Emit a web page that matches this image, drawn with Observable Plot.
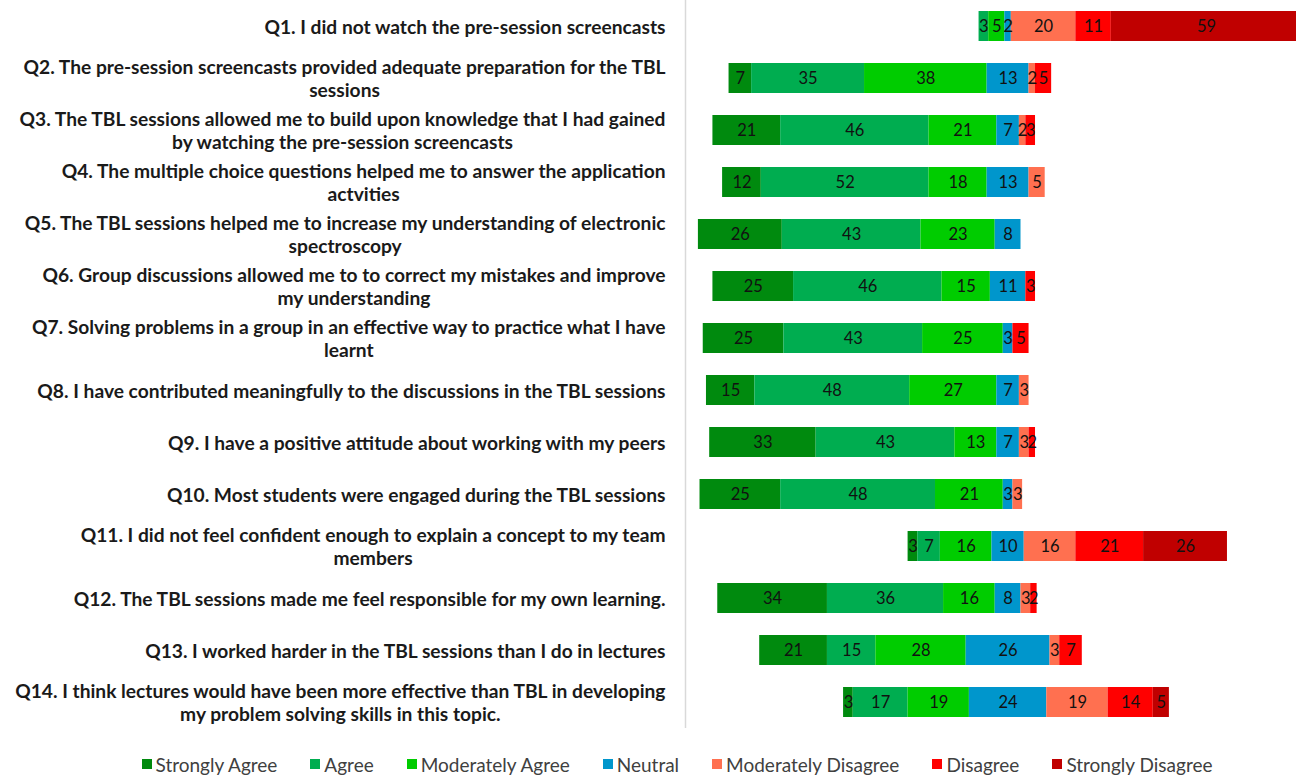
<!DOCTYPE html>
<html>
<head>
<meta charset="utf-8">
<script src="https://cdn.jsdelivr.net/npm/d3@7"></script>
<script src="https://cdn.jsdelivr.net/npm/@observablehq/plot@0.6"></script>
<style>
  html, body { margin: 0; padding: 0; background: #fff; overflow: hidden; }
  #chart svg { display: block; }
  #legend { display: flex; justify-content: center; align-items: center; font-family: Lato, "Open Sans", sans-serif; font-size: 19px; color: #404040; height: 30px; margin-top: 21px; padding-left: 58px; }
  #legend .item { display: flex; align-items: center; margin: 0 16.5px; }
  #legend .sw { width: 10px; height: 10px; margin-right: 4px; }
</style>
</head>
<body>
<div id="chart"></div>
<div id="legend"></div>
<script>
const questions = [
  "Q1. I did not watch the pre-session screencasts",
  "Q2. The pre-session screencasts provided adequate preparation for the TBL\nsessions",
  "Q3. The TBL sessions allowed me to build upon knowledge that I had gained\nby watching the pre-session screencasts",
  "Q4. The multiple choice questions helped me to answer the application\nactvities",
  "Q5. The TBL sessions helped me to increase my understanding of electronic\nspectroscopy",
  "Q6. Group discussions allowed me to to correct my mistakes and improve\nmy understanding",
  "Q7. Solving problems in a group in an effective way to practice what I have\nlearnt",
  "Q8. I have contributed meaningfully to the discussions in the TBL sessions",
  "Q9. I have a positive attitude about working with my peers",
  "Q10. Most students were engaged during the TBL sessions",
  "Q11. I did not feel confident enough to explain a concept to my team\nmembers",
  "Q12. The TBL sessions made me feel responsible for my own learning.",
  "Q13. I worked harder in the TBL sessions than I do in lectures",
  "Q14. I think lectures would have been more effective than TBL in developing\nmy problem solving skills in this topic."
];
const categories = ["Strongly Agree", "Agree", "Moderately Agree", "Neutral", "Moderately Disagree", "Disagree", "Strongly Disagree"];
const colors = ["#008a0e", "#00ad50", "#00cc00", "#0096cc", "#ff7050", "#ff0000", "#c00000"];

const stronglyAgree      = [0, 7, 21, 12, 26, 25, 25, 15, 33, 25, 3, 34, 21, 3];
const agree              = [3, 35, 46, 52, 43, 46, 43, 48, 43, 48, 7, 36, 15, 17];
const moderatelyAgree    = [5, 38, 21, 18, 23, 15, 25, 27, 13, 21, 16, 16, 28, 19];
const neutral            = [2, 13, 7, 13, 8, 11, 3, 7, 7, 3, 10, 8, 26, 24];
const moderatelyDisagree = [20, 2, 2, 5, 0, 0, 0, 3, 3, 3, 16, 3, 3, 19];
const disagree           = [11, 5, 3, 0, 0, 3, 5, 0, 2, 0, 21, 2, 7, 14];
const stronglyDisagree   = [59, 0, 0, 0, 0, 0, 0, 0, 0, 0, 26, 0, 0, 5];

const series = [stronglyAgree, agree, moderatelyAgree, neutral, moderatelyDisagree, disagree, stronglyDisagree];

// Build diverging table: centred on the middle of the Neutral segment
const rows = [];
questions.forEach((q, i) => {
  let start = -(stronglyAgree[i] + agree[i] + moderatelyAgree[i] + neutral[i] / 2);
  series.forEach((s, k) => {
    const v = s[i];
    rows.push({q, cat: categories[k], value: v, x1: start, x2: start + v});
    start += v;
  });
});
const nonZero = rows.filter(d => d.value > 0);

const chart = Plot.plot({
  width: 1296,
  height: 728,
  marginLeft: 685,
  marginRight: 0,
  marginTop: 0,
  marginBottom: 0,
  x: {domain: [-100, 89.4], axis: null},
  y: {domain: questions, paddingInner: 0.42, paddingOuter: 0.2, axis: null},
  color: {domain: categories, range: colors},
  marks: [
    Plot.ruleX([-100], {stroke: "#d9d9d9", strokeWidth: 1.5}),
    Plot.barX(nonZero, {x1: "x1", x2: "x2", y: "q", fill: "cat", clip: true}),
    Plot.text(nonZero, {x: d => (d.x1 + d.x2) / 2, y: "q", text: d => String(d.value), fill: "#111",
      fontSize: 16.5, fontFamily: "Lato, 'Open Sans', sans-serif", clip: true}),
    Plot.text(questions, {y: d => d, text: d => d, frameAnchor: "left", dx: -20, textAnchor: "end",
      lineAnchor: "middle", lineHeight: 1.2, fontSize: 19.2, fontWeight: "bold", fill: "#1a1a1a",
      fontFamily: "Lato, 'Open Sans', sans-serif"})
  ]
});
document.getElementById("chart").appendChild(chart);

// Centre wrapped lines of multi-line question labels relative to each other (right-aligned block)
chart.querySelectorAll("text").forEach(t => {
  const spans = t.querySelectorAll("tspan");
  if (spans.length > 1) {
    const widths = Array.from(spans, s => s.getComputedTextLength());
    const W = Math.max(...widths);
    spans.forEach(s => {
      const x0 = parseFloat(s.getAttribute("x")) || 0;
      s.setAttribute("x", x0 - W / 2);
      s.setAttribute("text-anchor", "middle");
    });
    t.setAttribute("text-anchor", "middle");
  }
});

const legend = document.getElementById("legend");
categories.forEach((c, k) => {
  const item = document.createElement("div");
  item.className = "item";
  const sw = document.createElement("div");
  sw.className = "sw";
  sw.style.background = colors[k];
  const lab = document.createElement("span");
  lab.textContent = c;
  item.appendChild(sw);
  item.appendChild(lab);
  legend.appendChild(item);
});
</script>
</body>
</html>
